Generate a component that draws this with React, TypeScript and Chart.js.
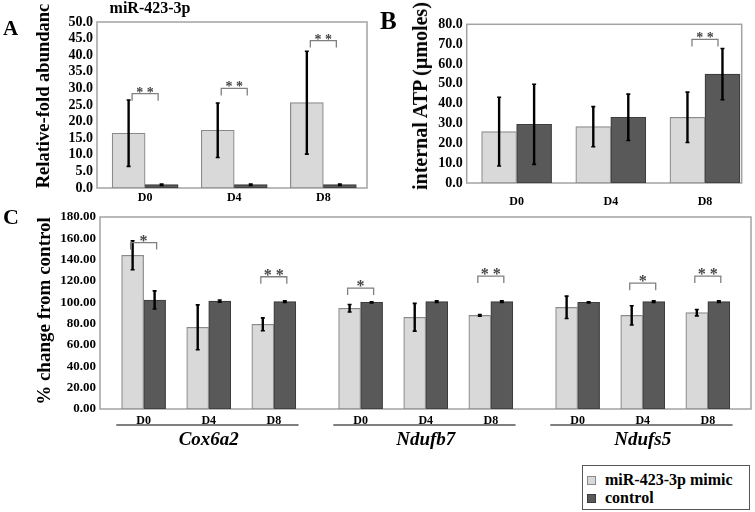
import React, { useEffect, useRef } from "react";
import { Chart, registerables } from "chart.js";
Chart.register(...registerables);

const FONT = '"Liberation Serif", "Times New Roman", serif';

// ---- shared
const seriesNames = ["miR-423-3p mimic", "control"];
const seriesFill = ["#d9d9d9", "#595959"];
const seriesEdge = ["#8a8a8a", "#3c3c3c"];

// ---- Panel A: miR-423-3p relative-fold abundance
const aDays = ["D0", "D4", "D8"];
const aMimic = [16.5, 17.4, 25.7];
const aMimicErr = [10.0, 8.2, 15.5];
const aControl = [1.0, 1.0, 1.0];
const aControlErr = [0.2, 0.2, 0.2];
const aSig = ["**", "**", "**"];
const aSigLevel = [28.4, 30.0, 44.4];
const aYMax = 50;
const aYStep = 5;

// ---- Panel B: internal ATP
const bDays = ["D0", "D4", "D8"];
const bMimic = [25.9, 28.4, 33.1];
const bMimicErr = [17.3, 10.1, 12.7];
const bControl = [29.6, 33.1, 54.9];
const bControlErr = [20.2, 11.7, 12.9];
const bSig = ["", "", "**"];
const bSigLevel = [0, 0, 72.4];
const bYMax = 80;
const bYStep = 10;

// ---- Panel C: % change from control
const genes = ["Cox6a2", "Ndufb7", "Ndufs5"];
const cDays = ["D0", "D4", "D8"];
const cMimic = [144.1, 76.6, 79.4, 94.4, 86.0, 87.8, 95.3, 87.8, 90.3];
const cMimicErr = [13.6, 21.0, 6.0, 3.5, 13.0, 0.8, 10.5, 9.0, 3.0];
const cControl = [102.2, 101.2, 100.6, 100.0, 100.6, 100.6, 100.0, 100.6, 100.6];
const cControlErr = [8.5, 1.0, 0.8, 0.6, 0.8, 0.8, 0.6, 0.8, 0.8];
const cSig = ["*", "", "**", "*", "", "**", "", "*", "**"];
const cSigLevel = [156, 0, 124, 113.4, 0, 124.6, 0, 118, 124.6];
const cYMax = 180;
const cYStep = 20;
const GENE_GAP = 1 / 3;

// x positions: category indices (with a small gap between gene groups in C)
const abXs = aDays.map((_, i) => i);
const cXs = genes.flatMap((_, g) => cDays.map((_, d) => g * (cDays.length + GENE_GAP) + d));
const cXLabels = genes.flatMap(() => cDays);

// ---- plugins
const boxPlugin = {
  id: "box",
  beforeDatasetsDraw(chart: any, _a: any, opts: any) {
    const { ctx, chartArea: a } = chart;
    ctx.save();
    ctx.strokeStyle = opts.color || "#a0a0a0";
    ctx.lineWidth = opts.width || 1.5;
    ctx.strokeRect(a.left, a.top, a.right - a.left, a.bottom - a.top);
    ctx.restore();
  },
};

const errorBarsPlugin = {
  id: "errorBars",
  afterDatasetsDraw(chart: any) {
    const { ctx } = chart;
    const ys = chart.scales.y;
    chart.data.datasets.forEach((ds: any, di: number) => {
      const meta = chart.getDatasetMeta(di);
      meta.data.forEach((bar: any, j: number) => {
        const v = ds.data[j].y;
        const e = ds.errors[j];
        const y1 = ys.getPixelForValue(v + e);
        const y2 = ys.getPixelForValue(v - e);
        ctx.save();
        ctx.strokeStyle = "#000";
        ctx.lineWidth = 2.4;
        ctx.beginPath();
        ctx.moveTo(bar.x, y1);
        ctx.lineTo(bar.x, y2);
        ctx.stroke();
        ctx.lineWidth = 1.6;
        ctx.beginPath();
        ctx.moveTo(bar.x - 2, y1);
        ctx.lineTo(bar.x + 2, y1);
        ctx.moveTo(bar.x - 2, y2);
        ctx.lineTo(bar.x + 2, y2);
        ctx.stroke();
        ctx.restore();
      });
    });
  },
};

const sigPlugin = {
  id: "sig",
  afterDatasetsDraw(chart: any, _a: any, opts: any) {
    const { ctx } = chart;
    const xs = chart.scales.x;
    const ys = chart.scales.y;
    opts.labels.forEach((lab: string, i: number) => {
      if (!lab) return;
      const cx = xs.getPixelForValue(opts.xs[i]);
      const y = ys.getPixelForValue(opts.levels[i]);
      const hw = opts.halfWidth;
      ctx.save();
      ctx.strokeStyle = "#808080";
      ctx.lineWidth = 1.3;
      ctx.beginPath();
      ctx.moveTo(cx - hw, y + 7);
      ctx.lineTo(cx - hw, y);
      ctx.lineTo(cx + hw, y);
      ctx.lineTo(cx + hw, y + 7);
      ctx.stroke();
      ctx.fillStyle = "#444";
      ctx.font = `bold ${opts.fontSize}px ${FONT}`;
      ctx.textAlign = "center";
      ctx.textBaseline = "alphabetic";
      ctx.fillText(lab.split("").join(" "), cx, y + 3);
      ctx.restore();
    });
  },
};

const genePlugin = {
  id: "genes",
  afterDraw(chart: any, _a: any, opts: any) {
    if (!opts || !opts.names) return;
    const { ctx, chartArea } = chart;
    const xs = chart.scales.x;
    opts.names.forEach((name: string, g: number) => {
      const first = opts.xs[g * opts.per];
      const last = opts.xs[g * opts.per + opts.per - 1];
      const x1 = xs.getPixelForValue(first - 0.42);
      const x2 = xs.getPixelForValue(last + 0.38);
      const y = chartArea.bottom + 16;
      ctx.save();
      ctx.strokeStyle = "#000";
      ctx.lineWidth = 1.2;
      ctx.beginPath();
      ctx.moveTo(x1, y);
      ctx.lineTo(x2, y);
      ctx.stroke();
      ctx.fillStyle = "#000";
      ctx.font = `italic bold 19px ${FONT}`;
      ctx.textAlign = "center";
      ctx.textBaseline = "middle";
      ctx.fillText(name, (xs.getPixelForValue(first) + xs.getPixelForValue(last)) / 2, y + 15);
      ctx.restore();
    });
  },
};

type Cfg = {
  xs: number[];
  xLabels: string[];
  xMin: number;
  xMax: number;
  mimic: number[];
  mimicErr: number[];
  control: number[];
  controlErr: number[];
  yMax: number;
  yStep: number;
  yDigits: number;
  sigLabels: string[];
  sigLevels: number[];
  sigFont: number;
  barThickness: number;
  yWidth: number;
  xHeight: number;
  padTop: number;
  padRight: number;
  yFont: number;
  xPad: number;
  genes?: string[];
};

function buildConfig(c: Cfg): any {
  const mk = (vals: number[], errs: number[], k: number) => ({
    label: seriesNames[k],
    data: c.xs.map((x, i) => ({ x, y: vals[i] })),
    errors: errs,
    backgroundColor: seriesFill[k],
    borderColor: seriesEdge[k],
    borderWidth: 1.2,
    borderSkipped: false,
    barThickness: c.barThickness,
  });
  return {
    type: "bar",
    data: {
      datasets: [mk(c.mimic, c.mimicErr, 0), mk(c.control, c.controlErr, 1)],
    },
    plugins: [boxPlugin, errorBarsPlugin, sigPlugin, genePlugin],
    options: {
      animation: false,
      responsive: true,
      maintainAspectRatio: false,
      layout: { padding: { top: c.padTop, right: c.padRight, left: 0, bottom: 0 } },
      plugins: {
        legend: { display: false },
        tooltip: { enabled: false },
        box: { color: "#a3a3a3", width: 1.5 },
        sig: { labels: c.sigLabels, levels: c.sigLevels, xs: c.xs, halfWidth: 13, fontSize: c.sigFont },
        genes: c.genes ? { names: c.genes, xs: c.xs, per: cDays.length } : {},
      },
      scales: {
        x: {
          type: "linear",
          offset: false,
          min: c.xMin,
          max: c.xMax,
          grid: { display: false, drawTicks: false },
          border: { display: false },
          afterBuildTicks: (axis: any) => {
            axis.ticks = c.xs.map((v) => ({ value: v }));
          },
          afterFit: (s: any) => {
            s.height = c.xHeight;
          },
          ticks: {
            autoSkip: false,
            maxRotation: 0,
            padding: c.xPad,
            color: "#000",
            font: { family: FONT, size: 12, weight: "bold" },
            callback: (_v: any, i: number) => c.xLabels[i],
          },
        },
        y: {
          min: 0,
          max: c.yMax,
          grid: { display: false, drawTicks: false },
          border: { display: false },
          afterFit: (s: any) => {
            s.width = c.yWidth;
          },
          ticks: {
            stepSize: c.yStep,
            autoSkip: false,
            padding: 4,
            color: "#000",
            font: { family: FONT, size: c.yFont, weight: "bold" },
            callback: (v: any) => Number(v).toFixed(c.yDigits),
          },
        },
      },
    },
  };
}

function Panel({ left, top, width, height, cfg }: { left: number; top: number; width: number; height: number; cfg: Cfg }) {
  const ref = useRef<HTMLCanvasElement>(null);
  useEffect(() => {
    const chart = new Chart(ref.current as HTMLCanvasElement, buildConfig(cfg));
    return () => chart.destroy();
  }, []);
  return (
    <div style={{ position: "absolute", left, top, width, height }}>
      <canvas ref={ref} />
    </div>
  );
}

function Text({ left, top, size, children, italic, rotate, center }: any) {
  const transform = rotate
    ? "translate(-50%, -50%) rotate(-90deg)"
    : center
    ? "translateX(-50%)"
    : undefined;
  return (
    <div
      style={{
        position: "absolute",
        left,
        top,
        fontFamily: FONT,
        fontWeight: "bold",
        fontStyle: italic ? "italic" : "normal",
        fontSize: size,
        lineHeight: 1,
        whiteSpace: "nowrap",
        color: "#000",
        transform,
      }}
    >
      {children}
    </div>
  );
}

const cfgA: Cfg = {
  xs: abXs, xLabels: aDays, xMin: -0.54, xMax: 2.49,
  mimic: aMimic, mimicErr: aMimicErr, control: aControl, controlErr: aControlErr,
  yMax: aYMax, yStep: aYStep, yDigits: 1,
  sigLabels: aSig, sigLevels: aSigLevel, sigFont: 14,
  barThickness: 33, yWidth: 97, xHeight: 27, padTop: 22, padRight: 8, yFont: 14, xPad: 3,
};

const cfgB: Cfg = {
  xs: abXs, xLabels: bDays, xMin: -0.53, xMax: 2.39,
  mimic: bMimic, mimicErr: bMimicErr, control: bControl, controlErr: bControlErr,
  yMax: bYMax, yStep: bYStep, yDigits: 1,
  sigLabels: bSig, sigLevels: bSigLevel, sigFont: 14,
  barThickness: 35, yWidth: 91.7, xHeight: 32, padTop: 24.3, padRight: 13.3, yFont: 14, xPad: 12,
};

const cfgC: Cfg = {
  xs: cXs, xLabels: cXLabels, xMin: -0.67, xMax: 9.33,
  mimic: cMimic, mimicErr: cMimicErr, control: cControl, controlErr: cControlErr,
  yMax: cYMax, yStep: cYStep, yDigits: 2,
  sigLabels: cSig, sigLevels: cSigLevel, sigFont: 16,
  barThickness: 22, yWidth: 100, xHeight: 103, padTop: 12, padRight: 4, yFont: 13, xPad: 5,
  genes,
};

export default function App() {
  return (
    <div style={{ position: "absolute", left: 0, top: 0, width: 755, height: 512, background: "#fff", overflow: "hidden" }}>
      <Panel left={0} top={0} width={375} height={215} cfg={cfgA} />
      <Panel left={375} top={0} width={380} height={215} cfg={cfgB} />
      <Panel left={0} top={205} width={755} height={307} cfg={cfgC} />

      <Text left={3} top={18} size={21}>A</Text>
      <Text left={380} top={8} size={25}>B</Text>
      <Text left={3} top={206} size={22}>C</Text>

      <Text left={150} top={0} size={16} center>miR-423-3p</Text>

      <Text left={43} top={96} size={18.5} rotate>Relative-fold abundanc</Text>
      <Text left={420} top={96} size={20} rotate>internal ATP (µmoles)</Text>
      <Text left={43} top={311} size={19} rotate>% change from control</Text>

      <div
        style={{
          position: "absolute",
          left: 582,
          top: 465,
          width: 168,
          height: 45,
          border: "1.5px solid #555",
          boxSizing: "border-box",
          background: "#fff",
        }}
      >
        {seriesNames.map((name, k) => (
          <div key={name} style={{ position: "absolute", left: 4, top: 6 + k * 18, height: 16, display: "flex", alignItems: "center" }}>
            <div style={{ width: 7, height: 7, background: seriesFill[k], border: `1px solid ${seriesEdge[k]}`, marginRight: 9 }} />
            <span style={{ fontFamily: FONT, fontWeight: "bold", fontSize: 16, lineHeight: 1, color: "#000" }}>{name}</span>
          </div>
        ))}
      </div>
    </div>
  );
}
